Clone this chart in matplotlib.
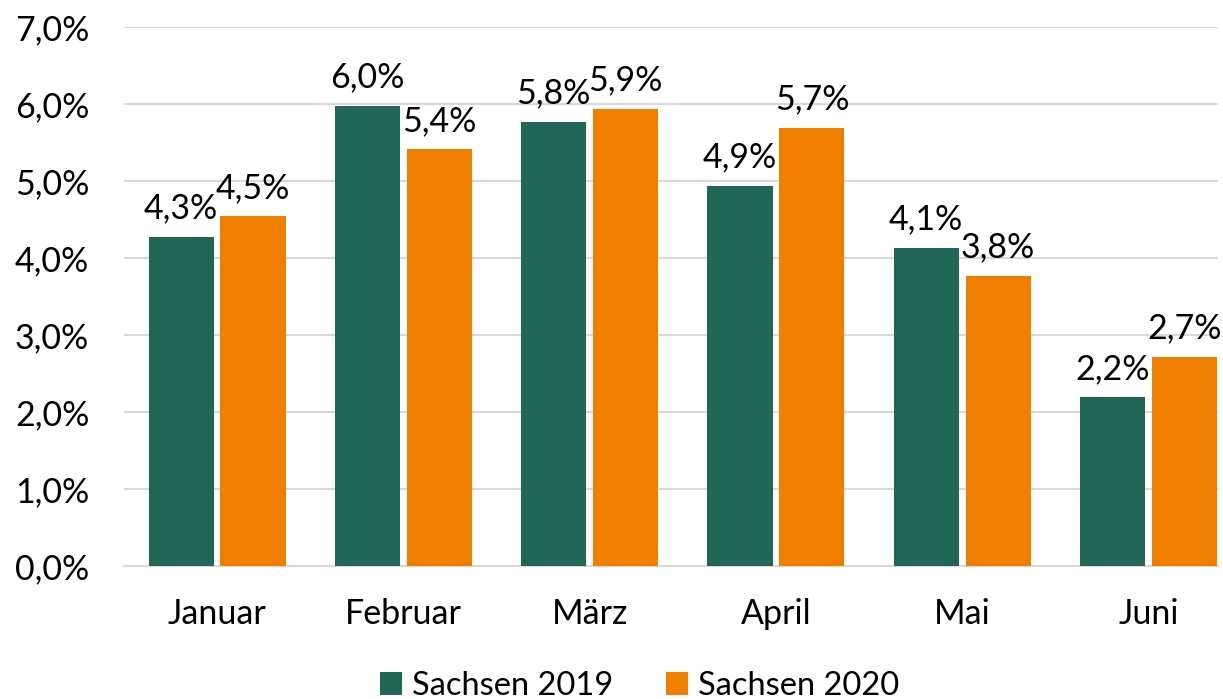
import numpy as np
import matplotlib
matplotlib.use('Agg')
from matplotlib import pyplot as plt

months = ['Januar', 'Februar', 'März', 'April', 'Mai', 'Juni']
sachsen_2019 = [4.27, 5.98, 5.77, 4.94, 4.13, 2.19]
sachsen_2020 = [4.54, 5.41, 5.94, 5.69, 3.77, 2.72]
labels_2019 = ['4,3%', '6,0%', '5,8%', '4,9%', '4,1%', '2,2%']
labels_2020 = ['4,5%', '5,4%', '5,9%', '5,7%', '3,8%', '2,7%']

green = '#216755'
orange = '#F07F00'

plt.rcParams['font.family'] = ['Lato', 'DejaVu Sans']
fs = 24.5

fig = plt.figure(figsize=(12.23, 6.99), dpi=100)
ax = fig.add_axes([124/1223, 1 - 566/699, (1218-124)/1223, (566-27)/699])

x = np.arange(len(months))
w = 0.35
gap = 0.036
b1 = ax.bar(x - w/2 - gap/2, sachsen_2019, w, color=green, label='Sachsen 2019', zorder=3)
b2 = ax.bar(x + w/2 + gap/2, sachsen_2020, w, color=orange, label='Sachsen 2020', zorder=3)

for bars, labs in [(b1, labels_2019), (b2, labels_2020)]:
    for r, t in zip(bars, labs):
        ax.annotate(t, (r.get_x() + r.get_width()/2, r.get_height()),
                    xytext=(0, 9), textcoords='offset points',
                    ha='center', va='bottom', fontsize=fs, color='black', zorder=4)

ax.set_ylim(0, 7)
ax.set_xlim(-0.5, 5 + (1218-1148.5)/186.2)
ax.set_yticks(np.arange(0, 7.01, 1))
ax.set_yticklabels([f'{v:.1f}%'.replace('.', ',') for v in np.arange(0, 7.01, 1)], fontsize=fs)
ax.set_xticks(x)
ax.set_xticklabels(months, fontsize=fs)
ax.tick_params(axis='y', length=0, pad=25)
ax.tick_params(axis='x', length=0, pad=23)
ax.grid(axis='y', color='#D9D9D9', linewidth=1.5, zorder=0)
for s in ['top', 'right', 'left']:
    ax.spines[s].set_visible(False)
ax.spines['bottom'].set_color('#D9D9D9')
ax.spines['bottom'].set_linewidth(1.5)

fig.legend(loc='lower center', bbox_to_anchor=(0.523, -0.045), ncol=2, frameon=False,
           fontsize=23.5, handlelength=0.68, handleheight=0.68, handletextpad=0.3, columnspacing=1.6)

fig.savefig('out.png', dpi=100)
